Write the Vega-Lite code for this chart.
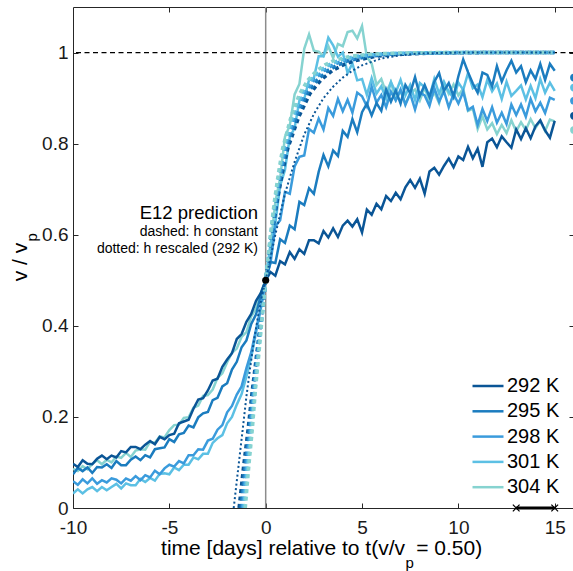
{
"$schema":"https://vega.github.io/schema/vega-lite/v6.json",
"width":501,"height":501,
"autosize":{"type":"none"},
"padding":{"left":73,"top":7,"right":0,"bottom":63},
"background":"white",
"config":{"view":{"stroke":"#262626","strokeWidth":1},"font":"Liberation Sans",
"axis":{"domain":false,"grid":false,"ticks":true,"tickSize":5,"offset":-5,"tickColor":"#262626","tickWidth":1,"labelFont":"Liberation Sans","labelFontSize":19,"labelColor":"#1a1a1a","title":null,"labelFlush":false,"labelOverlap":false,"labelBound":false}},
"datasets":{
"one":[{}],
"obs":[
{"x":-10,"292 K":0.097,"295 K":0.074,"298 K":0.059,"301 K":0.032,"304 K":0.086},
{"x":-9.75,"292 K":0.090,"295 K":0.088,"298 K":0.051,"301 K":0.041,"304 K":0.081},
{"x":-9.5,"292 K":0.105,"295 K":0.081,"298 K":0.063,"301 K":0.032,"304 K":0.092},
{"x":-9.25,"292 K":0.097,"295 K":0.089,"298 K":0.054,"301 K":0.041,"304 K":0.085},
{"x":-9,"292 K":0.096,"295 K":0.077,"298 K":0.065,"301 K":0.046,"304 K":0.097},
{"x":-8.75,"292 K":0.108,"295 K":0.090,"298 K":0.053,"301 K":0.037,"304 K":0.105},
{"x":-8.5,"292 K":0.115,"295 K":0.089,"298 K":0.061,"301 K":0.046,"304 K":0.096},
{"x":-8.25,"292 K":0.107,"295 K":0.096,"298 K":0.056,"301 K":0.039,"304 K":0.106},
{"x":-8,"292 K":0.115,"295 K":0.088,"298 K":0.065,"301 K":0.046,"304 K":0.100},
{"x":-7.75,"292 K":0.111,"295 K":0.103,"298 K":0.062,"301 K":0.053,"304 K":0.113},
{"x":-7.5,"292 K":0.125,"295 K":0.094,"298 K":0.054,"301 K":0.043,"304 K":0.110},
{"x":-7.25,"292 K":0.122,"295 K":0.094,"298 K":0.065,"301 K":0.054,"304 K":0.121},
{"x":-7,"292 K":0.134,"295 K":0.106,"298 K":0.060,"301 K":0.050,"304 K":0.112},
{"x":-6.75,"292 K":0.134,"295 K":0.113,"298 K":0.070,"301 K":0.050,"304 K":0.126},
{"x":-6.5,"292 K":0.129,"295 K":0.105,"298 K":0.061,"301 K":0.064,"304 K":0.129},
{"x":-6.25,"292 K":0.139,"295 K":0.116,"298 K":0.072,"301 K":0.057,"304 K":0.128},
{"x":-6,"292 K":0.147,"295 K":0.111,"298 K":0.067,"301 K":0.066,"304 K":0.145},
{"x":-5.75,"292 K":0.140,"295 K":0.129,"298 K":0.082,"301 K":0.060,"304 K":0.143},
{"x":-5.5,"292 K":0.156,"295 K":0.131,"298 K":0.074,"301 K":0.075,"304 K":0.157},
{"x":-5.25,"292 K":0.151,"295 K":0.133,"298 K":0.087,"301 K":0.076,"304 K":0.155},
{"x":-5,"292 K":0.160,"295 K":0.151,"298 K":0.095,"301 K":0.074,"304 K":0.171},
{"x":-4.75,"292 K":0.163,"295 K":0.145,"298 K":0.091,"301 K":0.089,"304 K":0.182},
{"x":-4.5,"292 K":0.186,"295 K":0.162,"298 K":0.103,"301 K":0.083,"304 K":0.183},
{"x":-4.25,"292 K":0.190,"295 K":0.165,"298 K":0.098,"301 K":0.095,"304 K":0.198},
{"x":-4,"292 K":0.194,"295 K":0.181,"298 K":0.116,"301 K":0.095,"304 K":0.199},
{"x":-3.75,"292 K":0.218,"295 K":0.177,"298 K":0.116,"301 K":0.111,"304 K":0.220},
{"x":-3.5,"292 K":0.238,"295 K":0.199,"298 K":0.129,"301 K":0.107,"304 K":0.225},
{"x":-3.25,"292 K":0.241,"295 K":0.208,"298 K":0.128,"301 K":0.119,"304 K":0.246},
{"x":-3,"292 K":0.258,"295 K":0.211,"298 K":0.148,"301 K":0.119,"304 K":0.248},
{"x":-2.75,"292 K":0.280,"295 K":0.237,"298 K":0.152,"301 K":0.143,"304 K":0.260},
{"x":-2.5,"292 K":0.284,"295 K":0.242,"298 K":0.172,"301 K":0.153,"304 K":0.286},
{"x":-2.25,"292 K":0.310,"295 K":0.267,"298 K":0.182,"301 K":0.160,"304 K":0.296},
{"x":-2,"292 K":0.326,"295 K":0.274,"298 K":0.210,"301 K":0.186,"304 K":0.320},
{"x":-1.75,"292 K":0.340,"295 K":0.304,"298 K":0.224,"301 K":0.200,"304 K":0.341},
{"x":-1.5,"292 K":0.371,"295 K":0.321,"298 K":0.249,"301 K":0.227,"304 K":0.350},
{"x":-1.25,"292 K":0.382,"295 K":0.353,"298 K":0.267,"301 K":0.250,"304 K":0.376},
{"x":-1,"292 K":0.409,"295 K":0.368,"298 K":0.307,"301 K":0.289,"304 K":0.386},
{"x":-0.75,"292 K":0.426,"295 K":0.404,"298 K":0.342,"301 K":0.331,"304 K":0.421},
{"x":-0.5,"292 K":0.455,"295 K":0.425,"298 K":0.392,"301 K":0.385,"304 K":0.438},
{"x":-0.25,"292 K":0.472,"295 K":0.468,"298 K":0.441,"301 K":0.438,"304 K":0.473},
{"x":0,"292 K":0.5,"295 K":0.5,"298 K":0.5,"301 K":0.5,"304 K":0.5},
{"x":0.25,"292 K":0.518,"295 K":0.540,"298 K":0.538,"301 K":0.580,"304 K":0.572},
{"x":0.5,"292 K":0.510,"295 K":0.538,"298 K":0.618,"301 K":0.625,"304 K":0.672},
{"x":0.75,"292 K":0.542,"295 K":0.590,"298 K":0.632,"301 K":0.708,"304 K":0.724},
{"x":1,"292 K":0.535,"295 K":0.582,"298 K":0.694,"301 K":0.742,"304 K":0.815},
{"x":1.25,"292 K":0.562,"295 K":0.620,"298 K":0.690,"301 K":0.814,"304 K":0.840},
{"x":1.5,"292 K":0.547,"295 K":0.612,"298 K":0.750,"301 K":0.834,"304 K":0.908},
{"x":1.75,"292 K":0.568,"295 K":0.672,"298 K":0.771,"301 K":0.895,"304 K":0.931},
{"x":2,"292 K":0.558,"295 K":0.665,"298 K":0.774,"301 K":0.898,"304 K":1.008},
{"x":2.25,"292 K":0.588,"295 K":0.702,"298 K":0.832,"301 K":0.940,"304 K":1.040},
{"x":2.5,"292 K":0.588,"295 K":0.690,"298 K":0.824,"301 K":0.944,"304 K":1.004},
{"x":2.75,"292 K":0.581,"295 K":0.738,"298 K":0.855,"301 K":0.992,"304 K":1.002},
{"x":3,"292 K":0.608,"295 K":0.775,"298 K":0.831,"301 K":0.992,"304 K":0.992},
{"x":3.25,"292 K":0.594,"295 K":0.750,"298 K":0.878,"301 K":1.033,"304 K":1.014},
{"x":3.5,"292 K":0.614,"295 K":0.785,"298 K":0.861,"301 K":1.016,"304 K":0.988},
{"x":3.75,"292 K":0.595,"295 K":0.773,"298 K":0.898,"301 K":0.991,"304 K":1.019},
{"x":4,"292 K":0.620,"295 K":0.828,"298 K":0.871,"301 K":1.000,"304 K":1.014},
{"x":4.25,"292 K":0.631,"295 K":0.815,"298 K":0.896,"301 K":0.955,"304 K":1.045},
{"x":4.5,"292 K":0.618,"295 K":0.854,"298 K":0.868,"301 K":0.976,"304 K":1.048},
{"x":4.75,"292 K":0.634,"295 K":0.825,"298 K":0.912,"301 K":0.939,"304 K":1.031},
{"x":5,"292 K":0.605,"295 K":0.869,"298 K":0.904,"301 K":0.942,"304 K":1.058},
{"x":5.25,"292 K":0.655,"295 K":0.888,"298 K":0.882,"301 K":0.907,"304 K":0.990},
{"x":5.5,"292 K":0.644,"295 K":0.862,"298 K":0.925,"301 K":0.944,"304 K":0.976},
{"x":5.75,"292 K":0.668,"295 K":0.889,"298 K":0.890,"301 K":0.910,"304 K":0.929},
{"x":6,"292 K":0.656,"295 K":0.872,"298 K":0.907,"301 K":0.926,"304 K":0.942},
{"x":6.25,"292 K":0.685,"295 K":0.919,"298 K":0.880,"301 K":0.898,"304 K":0.912},
{"x":6.5,"292 K":0.674,"295 K":0.892,"298 K":0.914,"301 K":0.935,"304 K":0.935},
{"x":6.75,"292 K":0.692,"295 K":0.917,"298 K":0.895,"301 K":0.912,"304 K":0.896},
{"x":7,"292 K":0.678,"295 K":0.888,"298 K":0.919,"301 K":0.940,"304 K":0.915},
{"x":7.25,"292 K":0.704,"295 K":0.929,"298 K":0.885,"301 K":0.906,"304 K":0.887},
{"x":7.5,"292 K":0.720,"295 K":0.911,"298 K":0.910,"301 K":0.929,"304 K":0.911},
{"x":7.75,"292 K":0.703,"295 K":0.946,"298 K":0.875,"301 K":0.896,"304 K":0.919},
{"x":8,"292 K":0.723,"295 K":0.905,"298 K":0.912,"301 K":0.933,"304 K":0.895},
{"x":8.25,"292 K":0.690,"295 K":0.929,"298 K":0.906,"301 K":0.924,"304 K":0.923},
{"x":8.5,"292 K":0.739,"295 K":0.903,"298 K":0.883,"301 K":0.902,"304 K":0.893},
{"x":8.75,"292 K":0.747,"295 K":0.936,"298 K":0.922,"301 K":0.942,"304 K":0.913},
{"x":9,"292 K":0.732,"295 K":0.955,"298 K":0.892,"301 K":0.910,"304 K":0.889},
{"x":9.25,"292 K":0.751,"295 K":0.916,"298 K":0.915,"301 K":0.936,"304 K":0.932},
{"x":9.5,"292 K":0.767,"295 K":0.933,"298 K":0.880,"301 K":0.914,"304 K":0.909},
{"x":9.75,"292 K":0.748,"295 K":0.904,"298 K":0.909,"301 K":0.900,"304 K":0.930},
{"x":10,"292 K":0.772,"295 K":0.948,"298 K":0.888,"301 K":0.934,"304 K":0.906},
{"x":10.25,"292 K":0.764,"295 K":0.985,"298 K":0.914,"301 K":0.918,"304 K":0.921},
{"x":10.5,"292 K":0.793,"295 K":0.957,"298 K":0.874,"301 K":0.955,"304 K":0.872},
{"x":10.75,"292 K":0.768,"295 K":0.932,"298 K":0.881,"301 K":0.922,"304 K":0.877},
{"x":11,"292 K":0.789,"295 K":0.912,"298 K":0.841,"301 K":0.930,"304 K":0.832},
{"x":11.25,"292 K":0.749,"295 K":0.956,"298 K":0.876,"301 K":0.902,"304 K":0.860},
{"x":11.5,"292 K":0.803,"295 K":0.951,"298 K":0.850,"301 K":0.940,"304 K":0.831},
{"x":11.75,"292 K":0.811,"295 K":0.926,"298 K":0.880,"301 K":0.915,"304 K":0.845},
{"x":12,"292 K":0.792,"295 K":0.970,"298 K":0.846,"301 K":0.932,"304 K":0.821},
{"x":12.25,"292 K":0.816,"295 K":0.936,"298 K":0.868,"301 K":0.898,"304 K":0.841},
{"x":12.5,"292 K":0.803,"295 K":0.961,"298 K":0.843,"301 K":0.936,"304 K":0.823},
{"x":12.75,"292 K":0.791,"295 K":0.982,"298 K":0.886,"301 K":0.905,"304 K":0.851},
{"x":13,"292 K":0.831,"295 K":0.956,"298 K":0.863,"301 K":0.916,"304 K":0.827},
{"x":13.25,"292 K":0.810,"295 K":0.970,"298 K":0.886,"301 K":0.928,"304 K":0.847},
{"x":13.5,"292 K":0.834,"295 K":0.935,"298 K":0.859,"301 K":0.897,"304 K":0.830},
{"x":13.75,"292 K":0.812,"295 K":0.961,"298 K":0.898,"301 K":0.927,"304 K":0.854},
{"x":14,"292 K":0.838,"295 K":0.942,"298 K":0.871,"301 K":0.900,"304 K":0.834},
{"x":14.25,"292 K":0.851,"295 K":0.975,"298 K":0.890,"301 K":0.942,"304 K":0.850},
{"x":14.5,"292 K":0.829,"295 K":0.940,"298 K":0.867,"301 K":0.912,"304 K":0.828},
{"x":14.75,"292 K":0.813,"295 K":0.975,"298 K":0.901,"301 K":0.934,"304 K":0.853},
{"x":15,"292 K":0.850,"295 K":0.960,"298 K":0.896,"301 K":0.916,"304 K":0.849}
],
"pred":[
{"T":"292 K","x":-1.38,"y":0},{"T":"292 K","x":-1.15,"y":0.09},{"T":"292 K","x":-0.92,"y":0.17},{"T":"292 K","x":-0.69,"y":0.26},{"T":"292 K","x":-0.46,"y":0.34},{"T":"292 K","x":-0.23,"y":0.42},{"T":"292 K","x":0,"y":0.5},{"T":"292 K","x":0.29,"y":0.59},{"T":"292 K","x":0.58,"y":0.67},{"T":"292 K","x":0.86,"y":0.735},{"T":"292 K","x":1.15,"y":0.79},{"T":"292 K","x":1.73,"y":0.86},{"T":"292 K","x":2.3,"y":0.91},{"T":"292 K","x":2.88,"y":0.94},{"T":"292 K","x":3.45,"y":0.96},{"T":"292 K","x":4.03,"y":0.973},{"T":"292 K","x":4.6,"y":0.982},{"T":"292 K","x":5.75,"y":0.992},{"T":"292 K","x":6.9,"y":0.996},{"T":"292 K","x":8.05,"y":0.998},{"T":"292 K","x":9.2,"y":0.999},{"T":"292 K","x":11.5,"y":1},{"T":"292 K","x":15,"y":1},
{"T":"295 K","x":-1.28,"y":0},{"T":"295 K","x":-1.07,"y":0.09},{"T":"295 K","x":-0.86,"y":0.17},{"T":"295 K","x":-0.64,"y":0.26},{"T":"295 K","x":-0.43,"y":0.34},{"T":"295 K","x":-0.21,"y":0.42},{"T":"295 K","x":0,"y":0.5},{"T":"295 K","x":0.27,"y":0.59},{"T":"295 K","x":0.54,"y":0.67},{"T":"295 K","x":0.8,"y":0.735},{"T":"295 K","x":1.07,"y":0.79},{"T":"295 K","x":1.61,"y":0.86},{"T":"295 K","x":2.14,"y":0.91},{"T":"295 K","x":2.68,"y":0.94},{"T":"295 K","x":3.21,"y":0.96},{"T":"295 K","x":3.75,"y":0.973},{"T":"295 K","x":4.28,"y":0.982},{"T":"295 K","x":5.35,"y":0.992},{"T":"295 K","x":6.42,"y":0.996},{"T":"295 K","x":7.49,"y":0.998},{"T":"295 K","x":8.56,"y":0.999},{"T":"295 K","x":10.7,"y":1},{"T":"295 K","x":15,"y":1},
{"T":"298 K","x":-1.2,"y":0},{"T":"298 K","x":-1.0,"y":0.09},{"T":"298 K","x":-0.8,"y":0.17},{"T":"298 K","x":-0.6,"y":0.26},{"T":"298 K","x":-0.4,"y":0.34},{"T":"298 K","x":-0.2,"y":0.42},{"T":"298 K","x":0,"y":0.5},{"T":"298 K","x":0.25,"y":0.59},{"T":"298 K","x":0.5,"y":0.67},{"T":"298 K","x":0.75,"y":0.735},{"T":"298 K","x":1,"y":0.79},{"T":"298 K","x":1.5,"y":0.86},{"T":"298 K","x":2,"y":0.91},{"T":"298 K","x":2.5,"y":0.94},{"T":"298 K","x":3,"y":0.96},{"T":"298 K","x":3.5,"y":0.973},{"T":"298 K","x":4,"y":0.982},{"T":"298 K","x":5,"y":0.992},{"T":"298 K","x":6,"y":0.996},{"T":"298 K","x":7,"y":0.998},{"T":"298 K","x":8,"y":0.999},{"T":"298 K","x":10,"y":1},{"T":"298 K","x":15,"y":1},
{"T":"301 K","x":-1.13,"y":0},{"T":"301 K","x":-0.94,"y":0.09},{"T":"301 K","x":-0.75,"y":0.17},{"T":"301 K","x":-0.56,"y":0.26},{"T":"301 K","x":-0.38,"y":0.34},{"T":"301 K","x":-0.19,"y":0.42},{"T":"301 K","x":0,"y":0.5},{"T":"301 K","x":0.235,"y":0.59},{"T":"301 K","x":0.47,"y":0.67},{"T":"301 K","x":0.705,"y":0.735},{"T":"301 K","x":0.94,"y":0.79},{"T":"301 K","x":1.41,"y":0.86},{"T":"301 K","x":1.88,"y":0.91},{"T":"301 K","x":2.35,"y":0.94},{"T":"301 K","x":2.82,"y":0.96},{"T":"301 K","x":3.29,"y":0.973},{"T":"301 K","x":3.76,"y":0.982},{"T":"301 K","x":4.7,"y":0.992},{"T":"301 K","x":5.64,"y":0.996},{"T":"301 K","x":6.58,"y":0.998},{"T":"301 K","x":7.52,"y":0.999},{"T":"301 K","x":9.4,"y":1},{"T":"301 K","x":15,"y":1},
{"T":"304 K","x":-1.06,"y":0},{"T":"304 K","x":-0.88,"y":0.09},{"T":"304 K","x":-0.7,"y":0.17},{"T":"304 K","x":-0.53,"y":0.26},{"T":"304 K","x":-0.35,"y":0.34},{"T":"304 K","x":-0.18,"y":0.42},{"T":"304 K","x":0,"y":0.5},{"T":"304 K","x":0.22,"y":0.59},{"T":"304 K","x":0.44,"y":0.67},{"T":"304 K","x":0.66,"y":0.735},{"T":"304 K","x":0.88,"y":0.79},{"T":"304 K","x":1.32,"y":0.86},{"T":"304 K","x":1.76,"y":0.91},{"T":"304 K","x":2.2,"y":0.94},{"T":"304 K","x":2.64,"y":0.96},{"T":"304 K","x":3.08,"y":0.973},{"T":"304 K","x":3.52,"y":0.982},{"T":"304 K","x":4.4,"y":0.992},{"T":"304 K","x":5.28,"y":0.996},{"T":"304 K","x":6.16,"y":0.998},{"T":"304 K","x":7.04,"y":0.999},{"T":"304 K","x":8.8,"y":1},{"T":"304 K","x":15,"y":1}
],
"dot":[
{"x":-1.66,"y":0},{"x":-1.43,"y":0.085},{"x":-1.2,"y":0.17},{"x":-1.0,"y":0.245},{"x":-0.8,"y":0.31},{"x":-0.6,"y":0.37},{"x":-0.4,"y":0.42},{"x":-0.2,"y":0.465},{"x":0,"y":0.5},{"x":0.5,"y":0.6},{"x":1,"y":0.69},{"x":1.5,"y":0.76},{"x":2,"y":0.82},{"x":2.5,"y":0.865},{"x":3,"y":0.9},{"x":3.5,"y":0.925},{"x":4,"y":0.945},{"x":4.5,"y":0.96},{"x":5,"y":0.972},{"x":6,"y":0.987},{"x":7,"y":0.994},{"x":8,"y":0.998},{"x":10,"y":1},{"x":15,"y":1}
],
"ends":[
{"T":"295 K","y":0.945},{"T":"301 K","y":0.923},{"T":"298 K","y":0.894},{"T":"292 K","y":0.861},{"T":"304 K","y":0.83}
],
"span":[{"x":13},{"x":15}]
},
"layer":[
{"data":{"name":"one"},"mark":{"type":"rule","color":"#8c8c8c","strokeWidth":1.5},
 "encoding":{"x":{"datum":0,"type":"quantitative","scale":{"domain":[-10,16],"nice":false,"zero":false},"axis":null}}},
{"data":{"name":"one"},"mark":{"type":"rule","color":"black","strokeWidth":1.2,"strokeDash":[5,3.5]},
 "encoding":{"y":{"datum":1,"type":"quantitative","scale":{"domain":[0,1.1],"nice":false,"zero":false},"axis":null}}},
{"data":{"name":"obs"},
 "transform":[{"fold":["304 K","301 K","298 K","295 K","292 K"],"as":["T","v"]}],
 "mark":{"type":"line","strokeWidth":2.5,"clip":true},
 "encoding":{
  "x":{"field":"x","type":"quantitative","scale":{"domain":[-10,16],"nice":false,"zero":false},"axis":{"orient":"bottom","values":[-10,-5,0,5,10,15],"labelPadding":10,"labelExpr":"'' + datum.value"}},
  "y":{"field":"v","type":"quantitative","scale":{"domain":[0,1.1],"nice":false,"zero":false},"axis":{"orient":"left","values":[0,0.2,0.4,0.6,0.8,1],"labelPadding":5,"labelExpr":"'' + datum.value"}},
  "stroke":{"field":"T","type":"nominal","scale":{"domain":["292 K","295 K","298 K","301 K","304 K"],"range":["#0a5596","#1b7cbf","#3a9bdc","#5cc0e4","#86d3d0"]},
   "legend":{"title":null,"orient":"none","legendX":401,"legendY":365,"symbolType":"M-1.24,0H1.24","symbolSize":625,"symbolStrokeWidth":2.5,"labelFontSize":20,"labelFont":"Liberation Sans","labelColor":"black","rowPadding":1.3,"labelOffset":5,"padding":0}}}},
{"data":{"name":"pred"},
 "mark":{"type":"line","strokeWidth":3.5,"strokeDash":[4,3.5],"clip":true},
 "encoding":{
  "x":{"field":"x","type":"quantitative","scale":{"domain":[-10,16],"nice":false,"zero":false},"axis":{"orient":"top","values":[-5,0,5,10,15],"labels":false}},
  "y":{"field":"y","type":"quantitative","scale":{"domain":[0,1.1],"nice":false,"zero":false},"axis":{"orient":"right","values":[0,0.2,0.4,0.6,0.8,1],"labels":false}},
  "stroke":{"field":"T","type":"nominal"}}},
{"data":{"name":"dot"},
 "mark":{"type":"line","strokeWidth":2,"strokeDash":[2,2.5],"color":"#0b5596","clip":true},
 "encoding":{
  "x":{"field":"x","type":"quantitative","axis":null},
  "y":{"field":"y","type":"quantitative","axis":null}}},
{"data":{"name":"one"},"mark":{"type":"point","filled":true,"color":"black","size":50,"opacity":1},
 "encoding":{"x":{"datum":0,"type":"quantitative","axis":null},"y":{"datum":0.5,"type":"quantitative","axis":null}}},
{"data":{"name":"one"},"mark":{"type":"text","text":"E12 prediction","align":"right","baseline":"middle","fontSize":18.5,"font":"Liberation Sans","color":"black"},
 "encoding":{"x":{"datum":-0.4,"type":"quantitative","axis":null},"y":{"datum":0.647,"type":"quantitative","axis":null}}},
{"data":{"name":"one"},"mark":{"type":"text","text":"dashed: h constant","align":"right","baseline":"middle","fontSize":14,"font":"Liberation Sans","color":"black"},
 "encoding":{"x":{"datum":-0.4,"type":"quantitative","axis":null},"y":{"datum":0.607,"type":"quantitative","axis":null}}},
{"data":{"name":"one"},"mark":{"type":"text","text":"dotted: h rescaled (292 K)","align":"right","baseline":"middle","fontSize":14,"font":"Liberation Sans","color":"black"},
 "encoding":{"x":{"datum":-0.4,"type":"quantitative","axis":null},"y":{"datum":0.568,"type":"quantitative","axis":null}}},
{"data":{"name":"ends"},
 "mark":{"type":"point","filled":true,"size":60,"opacity":1},
 "encoding":{"x":{"datum":16,"type":"quantitative","axis":null},"y":{"field":"y","type":"quantitative","axis":null},
  "fill":{"field":"T","type":"nominal","scale":{"domain":["292 K","295 K","298 K","301 K","304 K"],"range":["#0a5596","#1b7cbf","#3a9bdc","#5cc0e4","#86d3d0"]},"legend":null}}},
{"data":{"name":"one"},"mark":{"type":"rule","color":"black","strokeWidth":3},
 "encoding":{"x":{"datum":13,"type":"quantitative","axis":null},"x2":{"datum":15},"y":{"datum":0,"type":"quantitative","axis":null}}},
{"data":{"name":"span"},
 "mark":{"type":"point","shape":"M-1,-1L1,1M1,-1L-1,1","filled":false,"color":"black","strokeWidth":1.2,"size":45,"opacity":1},
 "encoding":{"x":{"field":"x","type":"quantitative","axis":null},"y":{"datum":0,"type":"quantitative","axis":null}}},
{"data":{"name":"one"},"mark":{"type":"text","text":"time [days] relative to t(v/v","align":"right","baseline":"alphabetic","fontSize":21,"font":"Liberation Sans","color":"black"},
 "encoding":{"x":{"datum":7.229,"type":"quantitative","axis":null},"y":{"datum":-0.103,"type":"quantitative","axis":null}}},
{"data":{"name":"one"},"mark":{"type":"text","text":"p","align":"left","baseline":"alphabetic","fontSize":15,"font":"Liberation Sans","color":"black"},
 "encoding":{"x":{"datum":7.25,"type":"quantitative","axis":null},"y":{"datum":-0.131,"type":"quantitative","axis":null}}},
{"data":{"name":"one"},"mark":{"type":"text","text":"= 0.50)","align":"left","baseline":"alphabetic","fontSize":21,"font":"Liberation Sans","color":"black"},
 "encoding":{"x":{"datum":7.81,"type":"quantitative","axis":null},"y":{"datum":-0.103,"type":"quantitative","axis":null}}},
{"data":{"name":"one"},"mark":{"type":"text","text":"v / v","align":"center","baseline":"alphabetic","angle":270,"fontSize":21,"font":"Liberation Sans","color":"black"},
 "encoding":{"x":{"datum":-12.387,"type":"quantitative","axis":null},"y":{"datum":0.54,"type":"quantitative","axis":null}}},
{"data":{"name":"one"},"mark":{"type":"text","text":"p","align":"left","baseline":"alphabetic","angle":270,"fontSize":15,"font":"Liberation Sans","color":"black"},
 "encoding":{"x":{"datum":-11.868,"type":"quantitative","axis":null},"y":{"datum":0.585,"type":"quantitative","axis":null}}}
],
"resolve":{"axis":{"x":"independent","y":"independent"}}
}
